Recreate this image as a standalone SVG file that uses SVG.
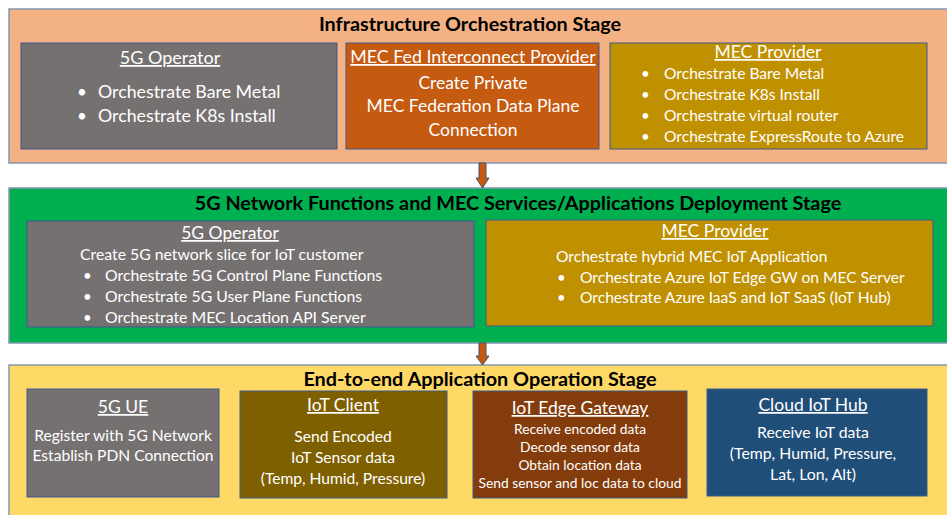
<svg xmlns="http://www.w3.org/2000/svg" width="947" height="515" viewBox="0 0 947 515">
<style>
text{font-family:Lato,"Open Sans","Liberation Sans",sans-serif;fill:#fff}
.st{font-weight:bold;fill:#000;font-size:19.8px;text-anchor:middle}
.h{text-decoration:underline;text-anchor:middle}
.c{text-anchor:middle}
.box{stroke:#3d5a8c;stroke-width:1}
.stage{stroke:#8497b0;stroke-width:1.5}
.arrow{fill:#c55a11;stroke:#44546a;stroke-width:1}
</style>
<g id="stage1">
<rect class="stage" x="9" y="9" width="945" height="154" fill="#f4b183"/>
<text class="st" x="470" y="31" font-size="20.5">Infrastructure Orchestration Stage</text>
</g>
<g id="s1-5g-operator">
<rect class="box" x="21" y="43" width="316" height="106" fill="#767171"/>
<text class="h" x="170" y="64" font-size="18">5G Operator</text>
<text x="77" y="98" font-size="17">•</text>
<text x="98" y="98" font-size="17.8">Orchestrate Bare Metal</text>
<text x="77" y="122" font-size="17">•</text>
<text x="98" y="122" font-size="17.8">Orchestrate K8s Install</text>
</g>
<g id="s1-mec-fed">
<rect class="box" x="346" y="43" width="253" height="106" fill="#c55a11"/>
<text class="h" x="473" y="63" font-size="17.8">MEC Fed Interconnect Provider</text>
<text class="c" x="473" y="89" font-size="17.5">Create Private</text>
<text class="c" x="473" y="112" font-size="17.5">MEC Federation Data Plane</text>
<text class="c" x="473" y="136" font-size="17.5">Connection</text>
</g>
<g id="s1-mec-provider">
<rect class="box" x="610" y="43" width="317" height="106" fill="#bf9000"/>
<text class="h" x="768" y="58" font-size="17.5">MEC Provider</text>
<text x="641" y="79" font-size="15">•</text>
<text x="664" y="79" font-size="15.6">Orchestrate Bare Metal</text>
<text x="641" y="100" font-size="15">•</text>
<text x="664" y="100" font-size="15.6">Orchestrate K8s Install</text>
<text x="641" y="121" font-size="15">•</text>
<text x="664" y="121" font-size="15.6">Orchestrate virtual router</text>
<text x="641" y="142" font-size="15">•</text>
<text x="664" y="142" font-size="15.6">Orchestrate ExpressRoute to Azure</text>
</g>
<g id="stage2">
<rect class="stage" x="9" y="188" width="945" height="155" fill="#00b050"/>
<text class="st" x="518" y="210">5G Network Functions and MEC Services/Applications Deployment Stage</text>
</g>
<g id="s2-5g-operator">
<rect class="box" x="27" y="221" width="447" height="106" fill="#767171"/>
<text class="h" x="230" y="239" font-size="17.5">5G Operator</text>
<text x="80" y="260" font-size="15.8">Create 5G network slice for IoT customer</text>
<text x="83" y="281" font-size="15">•</text>
<text x="105" y="281" font-size="15.8">Orchestrate 5G Control Plane Functions</text>
<text x="83" y="302" font-size="15">•</text>
<text x="105" y="302" font-size="15.8">Orchestrate 5G User Plane Functions</text>
<text x="83" y="323" font-size="15">•</text>
<text x="105" y="323" font-size="15.8">Orchestrate MEC Location API Server</text>
</g>
<g id="s2-mec-provider">
<rect class="box" x="486" y="220" width="447" height="106" fill="#bf9000"/>
<text class="h" x="715" y="237" font-size="17.5">MEC Provider</text>
<text x="556" y="262" font-size="15.6">Orchestrate hybrid MEC IoT Application</text>
<text x="557" y="283" font-size="15">•</text>
<text x="580" y="283" font-size="15.6">Orchestrate Azure IoT Edge GW on MEC Server</text>
<text x="557" y="303" font-size="15">•</text>
<text x="580" y="303" font-size="15.6">Orchestrate Azure IaaS and IoT SaaS (IoT Hub)</text>
</g>
<g id="stage3">
<rect class="stage" x="9" y="365" width="945" height="160" fill="#ffd966"/>
<text class="st" x="480" y="386">End-to-end Application Operation Stage</text>
</g>
<g id="s3-5g-ue">
<rect class="box" x="27" y="389" width="192" height="108" fill="#767171"/>
<text class="h" x="123" y="413" font-size="17.5">5G UE</text>
<text class="c" x="123" y="441" font-size="15.6">Register with 5G Network</text>
<text class="c" x="123" y="461" font-size="15.6">Establish PDN Connection</text>
</g>
<g id="s3-iot-client">
<rect class="box" x="240" y="391" width="207" height="107" fill="#7f6000"/>
<text class="h" x="343" y="411" font-size="17.5">IoT Client</text>
<text class="c" x="343" y="442" font-size="15.6">Send Encoded</text>
<text class="c" x="343" y="463" font-size="15.6">IoT Sensor data</text>
<text class="c" x="343" y="484" font-size="15.6">(Temp, Humid, Pressure)</text>
</g>
<g id="s3-iot-edge">
<rect class="box" x="473" y="391" width="214" height="107" fill="#843c0c"/>
<text class="h" x="580" y="414" font-size="17.5">IoT Edge Gateway</text>
<text class="c" x="580" y="434" font-size="13.8">Receive encoded data</text>
<text class="c" x="580" y="452" font-size="13.8">Decode sensor data</text>
<text class="c" x="580" y="470" font-size="13.8">Obtain location data</text>
<text class="c" x="580" y="488" font-size="13.8">Send sensor and loc data to cloud</text>
</g>
<g id="s3-cloud-hub">
<rect class="box" x="707" y="389" width="220" height="107" fill="#1f4e79"/>
<text class="h" x="813" y="411" font-size="17.5">Cloud IoT Hub</text>
<text class="c" x="813" y="438" font-size="15.8">Receive IoT data</text>
<text class="c" x="813" y="459" font-size="15.8">(Temp, Humid, Pressure,</text>
<text class="c" x="813" y="480" font-size="15.8">Lat, Lon, Alt)</text>
</g>
<g id="connectors">
<polygon class="arrow" points="479,163 486,163 486,178 489,178 482.5,188 476,178 479,178"/>
<polygon class="arrow" points="479,343 486,343 486,356 489,356 482.5,365 476,356 479,356"/>
</g>
</svg>
